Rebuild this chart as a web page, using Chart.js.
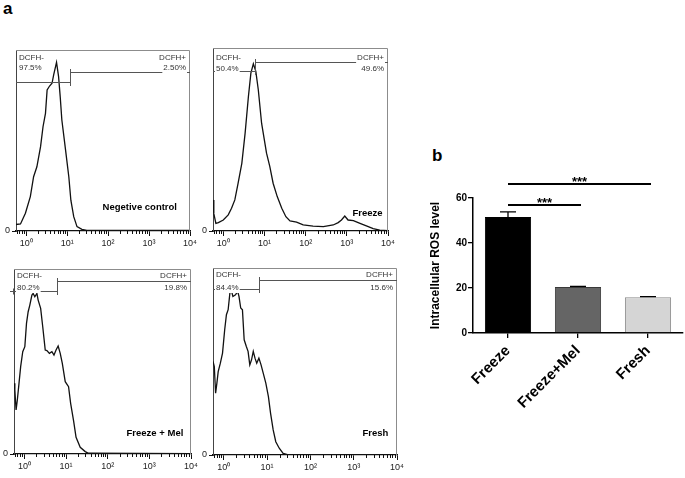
<!DOCTYPE html>
<html>
<head>
<meta charset="utf-8">
<script src="https://cdn.jsdelivr.net/npm/chart.js@4.4.0/dist/chart.umd.min.js"></script>
<style>
  html, body { margin: 0; padding: 0; background: #fff; }
  body { width: 685px; height: 478px; position: relative; overflow: hidden; font-family: "Liberation Sans", Arial, sans-serif; }
  canvas { position: absolute; }
  .tag { position: absolute; font-weight: bold; font-size: 17px; line-height: 17px; color: #000; }
</style>
</head>
<body>
<div class="tag" style="left:3px; top:0px;">a</div>
<div class="tag" style="left:432px; top:147px;">b</div>
<canvas id="h0"></canvas>
<canvas id="h1"></canvas>
<canvas id="h2"></canvas>
<canvas id="h3"></canvas>
<canvas id="bars"></canvas>
<script>
// ---- flow histograms: x = log10(DCFH intensity), y = count (% of panel height)
var negCtrlLogI = [-0.25, -0.14, -0.02, 0.10, 0.18, 0.26, 0.35, 0.41, 0.47, 0.51, 0.57, 0.63, 0.67, 0.74, 0.79, 0.83, 0.87, 0.96, 1.04, 1.09, 1.16, 1.24, 1.36, 1.48, 4.0];
var negCtrlCount = [3.6, 3.9, 9.8, 19, 30, 35.5, 46.6, 57.6, 65, 77.9, 80.1, 81.6, 86.2, 93.2, 85.3, 74.2, 61.3, 44.8, 30, 17, 7.9, 2.4, 0.9, 0.4, 0.3];

var freezeLogI = [-0.25, -0.23, -0.18, -0.12, 0.0, 0.12, 0.20, 0.28, 0.36, 0.45, 0.53, 0.61, 0.67, 0.73, 0.79, 0.85, 0.93, 1.05, 1.13, 1.21, 1.31, 1.42, 1.52, 1.62, 1.78, 1.94, 2.18, 2.43, 2.67, 2.79, 2.87, 2.95, 3.03, 3.16, 3.32, 3.49, 3.64, 3.80, 4.0];
var freezeCount = [17, 9.5, 4.2, 4.6, 6, 8.8, 12.4, 17, 26.1, 37, 53.5, 73.5, 86.3, 91.4, 87.2, 77.2, 58.9, 42.5, 35.2, 26.1, 18.8, 12.4, 7.8, 5.5, 4.9, 3.3, 2.7, 2.4, 3.3, 4.6, 6, 8.2, 6, 5.7, 4.2, 2.7, 1.3, 0.5, 0.2];

var melLogI = [-0.25, -0.23, -0.20, -0.17, -0.13, -0.09, -0.04, 0.01, 0.05, 0.09, 0.13, 0.18, 0.21, 0.25, 0.30, 0.33, 0.39, 0.44, 0.50, 0.54, 0.60, 0.66, 0.71, 0.76, 0.81, 0.86, 0.91, 0.98, 1.06, 1.11, 1.18, 1.24, 1.34, 1.46, 1.54, 4.0];
var melCount = [38.2, 34.6, 23.8, 29.2, 38.2, 47.2, 55.3, 58, 70.6, 76.9, 80.5, 85.9, 86.8, 85, 86.8, 83.2, 78.7, 68.8, 56.2, 55.9, 54.4, 55.3, 53.5, 56.2, 58.4, 54.4, 49, 39.1, 36.4, 27.4, 18, 9, 3.6, 1.3, 0.4, 0.2];

var freshLogI = [-0.25, -0.22, -0.19, -0.16, -0.13, -0.08, -0.03, 0.02, 0.06, 0.10, 0.14, 0.18, 0.21, 0.27, 0.32, 0.35, 0.39, 0.43, 0.47, 0.52, 0.56, 0.60, 0.64, 0.68, 0.72, 0.76, 0.81, 0.86, 0.91, 0.97, 1.03, 1.08, 1.14, 1.20, 1.28, 1.37, 1.47, 4.0];
var freshCount = [50, 47.3, 33, 38.4, 44.6, 49.1, 54.5, 67, 75, 77.7, 86.6, 87.5, 84.8, 85.7, 87.5, 84.8, 78.6, 77.7, 61.6, 58, 55.4, 48.2, 50.9, 55.4, 51.8, 49.1, 51.8, 48.2, 43.75, 38.4, 31.25, 22.3, 13.4, 7.1, 3.6, 0.9, 0.2, 0.2];

var panelNames = ['Negetive control', 'Freeze', 'Freeze + Mel', 'Fresh'];
var negPct = ['97.5%', '50.4%', '80.2%', '84.4%'];
var posPct = ['2.50%', '49.6%', '19.8%', '15.6%'];
var gateSplit = [1.07, 0.77, 0.78, 0.81];   // log10 boundary DCFH- / DCFH+
var negGateLevel = [82.3, 87.4, 88.3, 88.8];
var posGateLevel = [87.8, 92.5, 93.5, 93.7];

var decades = [0, 1, 2, 3, 4];
var decadeLabels = ['10\u2070', '10\u00b9', '10\u00b2', '10\u00b3', '10\u2074'];
var logMin = -0.25, logMax = 4;

// ---- bar chart
var groups = ['Freeze', 'Freeze+Mel', 'Fresh'];
var rosMean = [51.6, 20.4, 15.9];
var rosSem = [2.2, 0.3, 0.3];
var sigPairs = [[0, 1], [0, 2]];
var sigLevel = [56.9, 66.2];
var sigMark = ['***', '***'];

// ---- layout (pixels)
var boxes = [
  { x: 16, y: 50, w: 174, h: 181, nameDx: -13, nameDy: -24, labDy: 7.5, pctDy: 18, leftTick: false },
  { x: 213, y: 48, w: 175, h: 183, nameDx: -5.5, nameDy: -18, labDy: 10, pctDy: 21, leftTick: false },
  { x: 14, y: 269, w: 177, h: 185, nameDx: -7.7, nameDy: -21, labDy: 6.5, pctDy: 19, leftTick: true },
  { x: 213, y: 268, w: 184, h: 187, nameDx: -8.7, nameDy: -22, labDy: 7, pctDy: 20, leftTick: false }
];
var FONT = '"Liberation Sans", Arial, sans-serif';

var minorTicks = [];
for (var d = -1; d < 4; d++) {
  for (var k = 2; k < 10; k++) {
    var v = d + Math.log10(k);
    if (v > logMin && v < logMax) minorTicks.push(v);
  }
}

function textBg(ctx, txt, x, y, align) {
  var w = ctx.measureText(txt).width;
  var x0 = align === 'right' ? x - w : x;
  ctx.fillStyle = '#fff';
  ctx.fillRect(x0 - 1, y - 5, w + 2, 10);
  ctx.fillStyle = '#333';
  ctx.textAlign = align;
  ctx.fillText(txt, x, y);
}

var gatePlugin = {
  id: 'gates',
  afterDraw: function(chart, args, opts) {
    var i = opts.i, b = boxes[i];
    var ctx = chart.ctx, a = chart.chartArea;
    var sx = chart.scales.x, sy = chart.scales.y;
    ctx.save();
    // frame (top / right)
    ctx.strokeStyle = '#8c8c8c';
    ctx.lineWidth = 1;
    ctx.beginPath();
    ctx.moveTo(a.left, a.top + 0.5);
    ctx.lineTo(a.right - 0.5, a.top + 0.5);
    ctx.lineTo(a.right - 0.5, a.bottom);
    ctx.stroke();
    // gates
    var xs = Math.round(sx.getPixelForValue(gateSplit[i])) + 0.5;
    var yn = Math.round(sy.getPixelForValue(negGateLevel[i])) + 0.5;
    var yp = Math.round(sy.getPixelForValue(posGateLevel[i])) + 0.5;
    ctx.strokeStyle = '#555';
    ctx.beginPath();
    if (b.leftTick) {
      ctx.moveTo(a.left - 4, yn); ctx.lineTo(xs, yn);
      ctx.moveTo(a.left - 0.5, yn - 3); ctx.lineTo(a.left - 0.5, yn + 3);
    } else {
      ctx.moveTo(a.left, yn); ctx.lineTo(xs, yn);
    }
    ctx.moveTo(xs, yp); ctx.lineTo(a.right, yp);
    ctx.moveTo(xs, yp - 3.5); ctx.lineTo(xs, yn + 3.5);
    ctx.stroke();
    // gate labels
    ctx.font = '8px ' + FONT;
    ctx.textBaseline = 'middle';
    var lx = a.left + 3, rx = a.right - 4;
    textBg(ctx, 'DCFH-', lx, a.top + b.labDy, 'left');
    textBg(ctx, 'DCFH+', rx, a.top + b.labDy, 'right');
    textBg(ctx, negPct[i], lx, a.top + b.pctDy, 'left');
    textBg(ctx, posPct[i], rx, a.top + b.pctDy, 'right');
    // sample name
    ctx.font = 'bold 9.5px ' + FONT;
    ctx.fillStyle = '#000';
    ctx.textAlign = 'right';
    ctx.fillText(panelNames[i], a.right + b.nameDx, a.bottom + b.nameDy);
    ctx.restore();
  }
};

var histX = [negCtrlLogI, freezeLogI, melLogI, freshLogI];
var histY = [negCtrlCount, freezeCount, melCount, freshCount];

function makeHist(i) {
  var b = boxes[i];
  var padL = 18, padT = 4, padR = 10, padB = 22;
  var cv = document.getElementById('h' + i);
  cv.width = b.w + padL + padR;
  cv.height = b.h + padT + padB;
  cv.style.left = (b.x - padL) + 'px';
  cv.style.top = (b.y - padT) + 'px';
  var pts = histX[i].map(function(v, j) { return { x: v, y: histY[i][j] }; });
  new Chart(cv, {
    type: 'line',
    data: { datasets: [{ data: pts, borderColor: '#111', borderWidth: 1.3, pointRadius: 0, tension: 0, fill: false }] },
    options: {
      responsive: false,
      animation: false,
      events: [],
      layout: { padding: { left: 0, top: padT, right: padR, bottom: 0 } },
      plugins: { legend: { display: false }, tooltip: { enabled: false }, gates: { i: i } },
      scales: {
        x: {
          type: 'linear', min: logMin, max: logMax,
          afterBuildTicks: function(s) { s.ticks = decades.map(function(v) { return { value: v }; }); },
          afterFit: function(s) { s.height = padB; s.paddingLeft = 0; s.paddingRight = 0; },
          ticks: {
            autoSkip: false, maxRotation: 0, padding: 2, color: '#222',
            font: { size: 9, family: FONT },
            callback: function(v) { return decadeLabels[decades.indexOf(v)]; }
          },
          grid: { drawOnChartArea: false, tickLength: 5, color: '#111' },
          border: { color: '#111', width: 1.3 }
        },
        xm: {
          type: 'linear', axis: 'x', position: { y: 0 }, min: logMin, max: logMax,
          afterBuildTicks: function(s) { s.ticks = minorTicks.map(function(v) { return { value: v }; }); },
          afterFit: function(s) { s.height = 0; s.paddingLeft = 0; s.paddingRight = 0; },
          ticks: { display: false },
          grid: { drawOnChartArea: false, tickLength: 3, color: '#111' },
          border: { display: false }
        },
        y: {
          min: 0, max: 100,
          afterBuildTicks: function(s) { s.ticks = [{ value: 0 }]; },
          afterFit: function(s) { s.width = padL; s.paddingTop = 0; s.paddingBottom = 0; },
          ticks: { padding: 2, color: '#222', font: { size: 9, family: FONT } },
          grid: { drawOnChartArea: false, tickLength: 4, color: '#111' },
          border: { color: '#444', width: 1 }
        }
      }
    },
    plugins: [gatePlugin]
  });
}
for (var p = 0; p < 4; p++) makeHist(p);

// ---- bar chart b
var barExtras = {
  id: 'barExtras',
  afterDraw: function(chart) {
    var ctx = chart.ctx, sx = chart.scales.x, sy = chart.scales.y;
    ctx.save();
    ctx.strokeStyle = '#000';
    ctx.lineWidth = 1.3;
    rosMean.forEach(function(m, i) {
      var x = sx.getPixelForValue(i);
      var y0 = sy.getPixelForValue(m), y1 = sy.getPixelForValue(m + rosSem[i]);
      ctx.beginPath();
      ctx.moveTo(x, y0); ctx.lineTo(x, y1);
      ctx.moveTo(x - 8, y1); ctx.lineTo(x + 8, y1);
      ctx.stroke();
    });
    ctx.lineWidth = 2;
    ctx.fillStyle = '#000';
    ctx.font = 'bold 13px ' + FONT;
    ctx.textAlign = 'center';
    ctx.textBaseline = 'alphabetic';
    sigPairs.forEach(function(pr, k) {
      var xa = sx.getPixelForValue(pr[0]), xb = sx.getPixelForValue(pr[1]) + 3;
      var y = Math.round(sy.getPixelForValue(sigLevel[k]));
      ctx.beginPath();
      ctx.moveTo(xa, y); ctx.lineTo(xb, y);
      ctx.stroke();
      ctx.fillText(sigMark[k], (xa + xb) / 2, y + 2);
    });
    ctx.restore();
  }
};

var bc = document.getElementById('bars');
bc.width = 270; bc.height = 328;
bc.style.left = '415px'; bc.style.top = '150px';
new Chart(bc, {
  type: 'bar',
  data: {
    labels: groups,
    datasets: [{
      data: rosMean,
      backgroundColor: ['#000000', '#656565', '#d5d5d5'],
      borderColor: ['#000000', '#3a3a3a', '#8a8a8a'],
      borderWidth: 1,
      barPercentage: 0.66,
      categoryPercentage: 1
    }]
  },
  options: {
    responsive: false,
    animation: false,
    events: [],
    layout: { padding: { left: 9, top: 48, right: 2, bottom: 0 } },
    plugins: { legend: { display: false }, tooltip: { enabled: false } },
    scales: {
      x: {
        afterFit: function(s) { s.height = 145; s.paddingLeft = 0; s.paddingRight = 0; },
        ticks: { minRotation: 45, maxRotation: 45, padding: 4, color: '#000', font: { size: 15, weight: 'bold', family: FONT } },
        grid: { offset: false, drawOnChartArea: false, tickLength: 5, color: '#000', lineWidth: 1.3 },
        border: { color: '#000', width: 1.5 }
      },
      y: {
        min: 0, max: 60,
        afterFit: function(s) { s.width = 49; s.paddingTop = 0; s.paddingBottom = 0; },
        ticks: { stepSize: 20, padding: 1, color: '#000', font: { size: 10, weight: 'bold', family: FONT } },
        grid: { drawOnChartArea: false, tickLength: 5, color: '#000', lineWidth: 1.3 },
        border: { color: '#000', width: 1.5 },
        title: { display: true, text: 'Intracellular ROS level', color: '#000', font: { size: 12, weight: 'bold', family: FONT }, padding: { top: 4, bottom: 0 } }
      }
    }
  },
  plugins: [barExtras]
});
</script>
</body>
</html>
